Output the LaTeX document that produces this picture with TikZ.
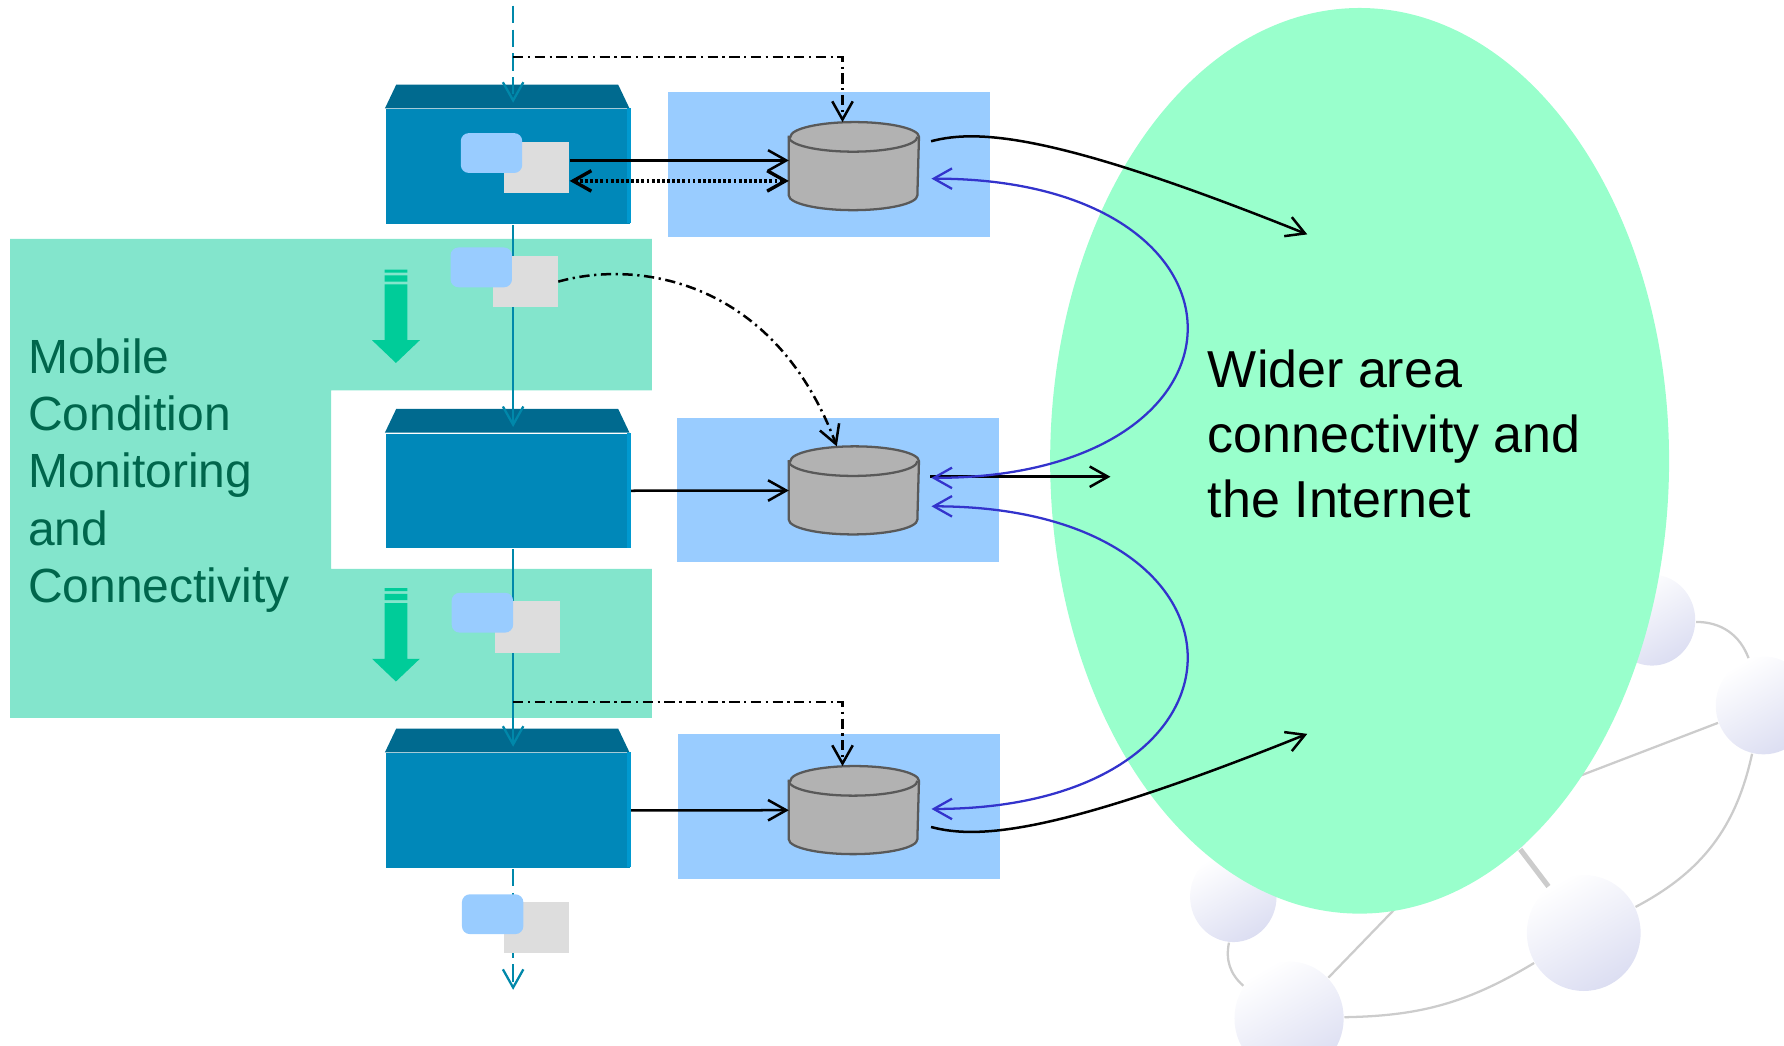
\documentclass[tikz,border=0pt]{standalone}
\usepackage{fontspec}
\setmainfont{Liberation Sans}
\usepackage{tikz}
\usepackage{xcolor}
\usetikzlibrary{arrows.meta,shapes.geometric}

\definecolor{zonegreen}{RGB}{131,229,204}
\definecolor{zonetext}{RGB}{0,102,76}
\definecolor{panelblue}{RGB}{153,204,255}
\definecolor{wangreen}{RGB}{153,255,204}
\definecolor{loopblue}{RGB}{51,51,204}
\definecolor{feedteal}{RGB}{0,136,170}
\definecolor{unitbody}{RGB}{0,136,185}
\definecolor{unitcap}{RGB}{0,106,143}
\definecolor{unitedge}{RGB}{0,153,208}
\definecolor{dropgreen}{RGB}{0,204,153}
\definecolor{storefill}{RGB}{178,178,178}
\definecolor{storeline}{RGB}{89,89,89}
\definecolor{sheetgray}{RGB}{221,221,221}
\definecolor{meshline}{RGB}{204,204,204}
\definecolor{meshball}{RGB}{220,222,242}

\begin{document}
\begin{tikzpicture}[x=0.1mm, y=-0.1mm,
    >={Straight Barb[length=1.6mm,width=1.8mm]},
    unit/.style={fill=unitbody, minimum width=21.5mm, minimum height=10.1mm, inner sep=0},
    panel/.style={fill=panelblue, minimum width=28.3mm, minimum height=12.7mm, inner sep=0},
    store/.style={minimum width=11.3mm, minimum height=7.6mm, inner sep=0},
    storeskin/.style={draw=storeline, fill=storefill, line width=0.2mm},
    card/.style={fill=panelblue, rounded corners=0.7mm, minimum width=5.4mm, minimum height=3.5mm, inner sep=0},
    sheet/.style={fill=sheetgray, minimum width=5.7mm, minimum height=4.5mm, inner sep=0},
    ball/.style={ellipse, inner sep=0, top color=white, bottom color=meshball, shading angle=30},
    mesh/.style={draw=meshline, line width=0.2mm},
    feed/.style={draw=feedteal, line width=0.2mm, shorten >=0.5mm, ->},
    link/.style={draw=black, line width=0.22mm},
    reply/.style={draw=loopblue, line width=0.2mm, <->, shorten <=1.1mm, shorten >=1.1mm},
    trigger/.style={link, ->, dash pattern=on 0.9mm off 0.4mm on 0.2mm off 0.4mm},
]
\useasboundingbox (0,0) rectangle (1568,919);

% mesh of the wider network, behind the cloud
\node[ball, minimum width=7.6mm, minimum height=8mm] (s1) at (1452,545) {};
\node[ball, minimum width=8.4mm, minimum height=8.6mm] (s2) at (1550,620) {};
\node[ball, minimum width=7.6mm, minimum height=8mm] (s3) at (1084,788) {};
\node[ball, minimum width=10mm, minimum height=10.2mm] (s4) at (1392,820) {};
\node[ball, minimum width=9.6mm, minimum height=10mm] (s5) at (1133,895) {};
\node[ball, minimum width=8.4mm, minimum height=8.6mm] (s6) at (1310,712) {};
\draw[mesh] (s1) to[bend left=35] (s2);
\draw[mesh] (s2) to[bend left=25] (s4);
\draw[mesh] (s2) -- (s6);
\draw[mesh] (s4) to[bend left=15] (s5);
\draw[mesh] (s3) to[bend right=30] (s5);
\draw[mesh] (s5) -- (s6);
\draw[mesh, line width=0.45mm] (s6) -- (s4);

% the cloud
\node[ellipse, fill=wangreen, minimum width=54.4mm, minimum height=79.6mm, inner sep=0] (wan) at (1195,405) {};

% monitoring zone
\fill[zonegreen] (9,210) -- (573,210) -- (573,343) -- (291,343) -- (291,500)
    -- (573,500) -- (573,631) -- (9,631) -- cycle;
\foreach \dy in {0,280} {
  \fill[dropgreen, shift={(0,\dy)}] (338,237) rectangle (358,239.5) (338,242) rectangle (358,247.5)
      (338,250) -- (358,250) -- (358,299) -- (369,299) -- (348,319) -- (327,299) -- (338,299) -- cycle;
}

% store panels
\node[panel] (panel1) at (728.5,144.5) {};
\node[panel] (panel2) at (736.5,430.5) {};
\node[panel] (panel3) at (737.5,709) {};

% units
\node[unit] (box1) at (446.5,146.5) {};
\node[unit] (box2) at (446.5,431.5) {};
\node[unit] (box3) at (446.5,712.5) {};
\fill[unitcap] (box1.north west) -- ++(10,-21) -- ++(195,0) -- ++(10,21) -- cycle;
\fill[unitcap] (box2.north west) -- ++(10,-21) -- ++(195,0) -- ++(10,21) -- cycle;
\fill[unitcap] (box3.north west) -- ++(10,-21) -- ++(195,0) -- ++(10,21) -- cycle;
\fill[unitedge] (box1.north east) rectangle ++(-4,101);
\fill[unitedge] (box2.north east) rectangle ++(-4,101);
\fill[unitedge] (box3.north east) rectangle ++(-4,101);

% feed down the chain
\coordinate (feed-in) at (451,5);
\coordinate (feed-out) at (451,870);
\draw[feed, dash pattern=on 1.5mm off 0.6mm] (feed-in) -- (feed-in |- box1.north);
\draw[feed] (feed-in |- box1.south) -- (feed-in |- box2.north);
\draw[feed] (feed-in |- box2.south) -- (feed-in |- box3.north);
\draw[feed, dash pattern=on 1.5mm off 0.6mm, shorten >=0pt] (feed-in |- box3.south) -- (feed-out);

% messages
\node[sheet] (sheet1) at (471.5,147.5) {};
\node[card] (card1) at (432,134.5) {};
\node[sheet] (sheet2) at (461.5,247.5) {};
\node[card] (card2) at (423,235) {};
\node[sheet] (sheet3) at (463.5,551) {};
\node[card] (card3) at (424,538.5) {};
\node[sheet] (sheet4) at (471.5,815.5) {};
\node[card] (card4) at (433,803.5) {};

% stores
\node[store] (db1) at (750.5,146) {};
\node[store] (db2) at (750.5,431) {};
\node[store] (db3) at (750.5,712) {};
\foreach \s in {db1,db2,db3} {
  \filldraw[storeskin] ([yshift=-1.3mm]\s.north west) -- ([yshift=1.3mm]\s.south west)
      arc[start angle=180, end angle=360, x radius=5.65mm, y radius=1.3mm]
      -- ([yshift=-1.3mm]\s.north east)
      arc[start angle=0, end angle=180, x radius=5.65mm, y radius=1.3mm] -- cycle;
  \draw[storeskin, fill=none] ([yshift=-1.3mm]\s.north west)
      arc[start angle=180, end angle=360, x radius=5.65mm, y radius=1.3mm];
}

% local links
\draw[link, ->] (sheet1.east |- 0,141) -- (db1.west |- 0,141);
\draw[link, <->, dash pattern=on 0.25mm off 0.2mm, line width=0.3mm] (sheet1.east |- 0,159) -- (db1.west |- 0,159);
\draw[link, ->] (box2) -- (db2);
\draw[link, ->] (box3) -- (db3);

% triggers
\coordinate (tap1) at (451,50);
\coordinate (tap3) at (451,617);
\draw[trigger] (tap1) -| ([xshift=-1mm]db1.north);
\draw[trigger] (sheet2.east) .. controls (560,228) and (680,245) .. ([xshift=-1.5mm]db2.north);
\draw[trigger] (tap3) -| ([xshift=-1mm]db3.north);

% out to the wider area
\coordinate (wan-in1) at (1149,206);
\coordinate (wan-in2) at (976,419);
\coordinate (wan-in3) at (1149,645);
\draw[link, ->, shorten <=1.1mm] (db1.east |- 0,127) .. controls (860,113) and (930,118) .. (wan-in1);
\draw[link, ->, shorten <=1mm] (db2.east |- 0,419) -- (wan-in2);
\draw[link, ->, shorten <=1.1mm] (db3.east |- 0,724) .. controls (860,738) and (930,733) .. (wan-in3);

% replies between stores
\draw[reply] (db1.east |- 0,157) .. controls (1118,157) and (1118,420) .. (db2.east |- 0,420);
\draw[reply] (db2.east |- 0,445) .. controls (1118,445) and (1118,711) .. (db3.east |- 0,711);

% labels
\node[anchor=north west, align=left, inner sep=0, text=zonetext, font=\fontsize{12}{14.3}\selectfont]
    (zone-label) at (24,297) {Mobile\\Condition\\Monitoring\\and\\Connectivity};
\node[anchor=north west, align=left, inner sep=0, font=\fontsize{13}{16.2}\selectfont]
    (wan-label) at (1061,307) {Wider area\\connectivity and\\the Internet};
\end{tikzpicture}
\end{document}
